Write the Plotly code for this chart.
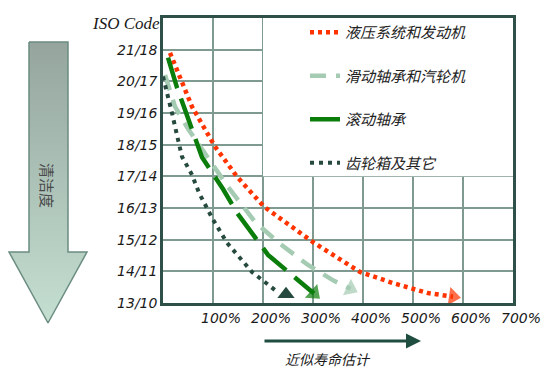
import plotly.graph_objects as go

# ---------------- data ----------------
y_tick_labels = ["13/10", "14/11", "15/12", "16/13", "17/14", "18/15", "19/16", "20/17", "21/18"]
x_tick_labels = ["100%", "200%", "300%", "400%", "500%", "600%", "700%"]
y_tick_vals = list(range(len(y_tick_labels)))
x_tick_vals = list(range(1, len(x_tick_labels) + 1))

names = ["液压系统和发动机", "滑动轴承和汽轮机", "滚动轴承", "齿轮箱及其它"]

red_x = [0.14, 0.58, 1.04, 1.48, 2.02, 3.02, 3.94, 4.6, 5.28, 5.8]
red_y = [7.9, 6.2, 4.94, 3.99, 3.04, 1.9, 0.98, 0.63, 0.32, 0.2]

lg_x = [0.04, 0.24, 0.5, 0.72, 1.3, 1.84, 2.34, 2.9, 3.42, 3.75]
lg_y = [7.2, 6.2, 5.5, 5.0, 3.67, 2.56, 1.87, 1.2, 0.7, 0.45]

dg_x = [0.1, 0.28, 0.44, 0.78, 1.2, 1.48, 2.1, 2.88, 3.02]
dg_y = [7.75, 6.8, 6.1, 4.6, 3.6, 2.85, 1.52, 0.5, 0.3]

dd_x = [0.0, 0.06, 0.18, 0.3, 0.38, 0.58, 0.72, 0.98, 1.28, 1.78, 2.24]
dd_y = [7.15, 6.8, 6.0, 5.16, 4.62, 4.05, 3.48, 2.69, 1.9, 0.98, 0.41]
dd_end = (2.46, 0.28)

W, H = 557, 369
OFF = 8  # default body margin of the html page: figure starts 8px in


def lx(px):
    return px - OFF


def ly(py):
    return py - OFF


# plot frame in page pixels
PL, PR, PT, PB = lx(163), lx(513), ly(18), ly(303)

fig = go.Figure()

styles = [
    dict(color="#ff3300", width=4.5, dash="4px,4px"),
    dict(color="#a5cbb3", width=4.5, dash="16px,10px"),
    dict(color="#0b7d0b", width=4.5, dash="32px,11px"),
    dict(color="#264a3f", width=4, dash="4px,5px"),
]
series = [(red_x, red_y), (lg_x, lg_y), (dg_x, dg_y), (dd_x, dd_y)]

for i, ((xs, ys), st, nm) in enumerate(zip(series, styles, names)):
    fig.add_trace(go.Scatter(
        x=xs, y=ys, mode="lines", name=nm, line=st,
        legendgroup=f"g{i}", hoverinfo="skip",
    ))

for (xs, ys), st in zip(series[:3], styles[:3]):
    fig.add_trace(go.Scatter(
        x=xs[-2:], y=ys[-2:], mode="markers", showlegend=False, hoverinfo="skip",
        marker=dict(symbol="triangle-up", angleref="previous", size=[0, 16],
                    color=st["color"], line=dict(width=0)),
    ))
fig.add_trace(go.Scatter(
    x=[dd_end[0]], y=[dd_end[1]], mode="markers", showlegend=False, hoverinfo="skip",
    marker=dict(symbol="triangle-up", size=15, color=styles[3]["color"], line=dict(width=0)),
))

# left gradient arrow (decoration, in page pixels via x2/y2)
ax_x = [29, 68, 68, 87, 48, 9, 29, 29]
ax_y = [42, 42, 252, 252, 323, 252, 252, 42]
fig.add_trace(go.Scatter(
    x=ax_x, y=ax_y, xaxis="x2", yaxis="y2", mode="lines", fill="toself",
    line=dict(color="#6b8c81", width=1.5), showlegend=False, hoverinfo="skip",
    fillgradient=dict(type="vertical", colorscale=[[0, "#95a59e"], [1, "#c4dfd1"]],
                      start=42, stop=323),
))

tick_font = dict(family="DejaVu Sans", size=14, color="#1a1a1a", style="italic")
fig.update_layout(
    width=W, height=H,
    margin=dict(l=0, r=0, t=0, b=0, autoexpand=False),
    paper_bgcolor="white", plot_bgcolor="rgba(0,0,0,0)",
    showlegend=True,
    legend=dict(
        x=lx(305) / W, y=1 - ly(16) / H, xanchor="left", yanchor="top",
        bgcolor="rgba(0,0,0,0)", borderwidth=0,
        font=dict(family="Noto Sans CJK SC", size=15, color="#222222", style="italic"),
        tracegroupgap=21, itemwidth=30,
    ),
    xaxis=dict(
        domain=[PL / W, PR / W], range=[0, 7], automargin=False,
        tickvals=x_tick_vals, ticktext=x_tick_labels, tickfont=tick_font,
        ticklabelshift=8, ticks="",
        showgrid=True, gridcolor="#7f9b91", gridwidth=2, zeroline=False,
        showline=True, linecolor="#2f5048", linewidth=2.5, mirror=True,
    ),
    yaxis=dict(
        domain=[1 - PB / H, 1 - PT / H], range=[0, 9], dtick=1, automargin=False,
        tickvals=y_tick_vals, ticktext=y_tick_labels, tickfont=tick_font,
        ticks="", showgrid=True, gridcolor="#7f9b91", gridwidth=2, zeroline=False,
        showline=True, linecolor="#2f5048", linewidth=2.5, mirror=True,
    ),
    xaxis2=dict(domain=[0, 1], range=[OFF, OFF + W], visible=False, anchor="y2",
                automargin=False),
    yaxis2=dict(domain=[0, 1], range=[OFF + H, OFF], visible=False, anchor="x2",
                automargin=False),
    shapes=[
        dict(type="rect", xref="x", yref="y", x0=2, x1=7, y0=4, y1=9,
             fillcolor="white", line=dict(width=0), layer="between"),
    ],
    annotations=[
        dict(text="ISO Code", xref="x2", yref="y2", x=162, y=23, xanchor="right",
             yanchor="middle", showarrow=False,
             font=dict(family="Liberation Serif", size=17, color="#1a1a1a", style="italic")),
        dict(text="清洁度", xref="x2", yref="y2", x=48, y=185, textangle=90,
             showarrow=False,
             font=dict(family="Noto Sans CJK SC", size=15, color="#4a4a4a")),
        dict(text="", xref="x2", yref="y2", axref="x2", ayref="y2",
             x=421, y=341, ax=263, ay=341, showarrow=True,
             arrowhead=2, arrowsize=1, arrowwidth=3, arrowcolor="#1f4d40"),
        dict(text="近似寿命估计", xref="x2", yref="y2", x=328, y=359,
             showarrow=False,
             font=dict(family="Noto Sans CJK SC", size=14, color="#1a1a1a", style="italic")),
    ],
)

fig.write_html("out.html")
